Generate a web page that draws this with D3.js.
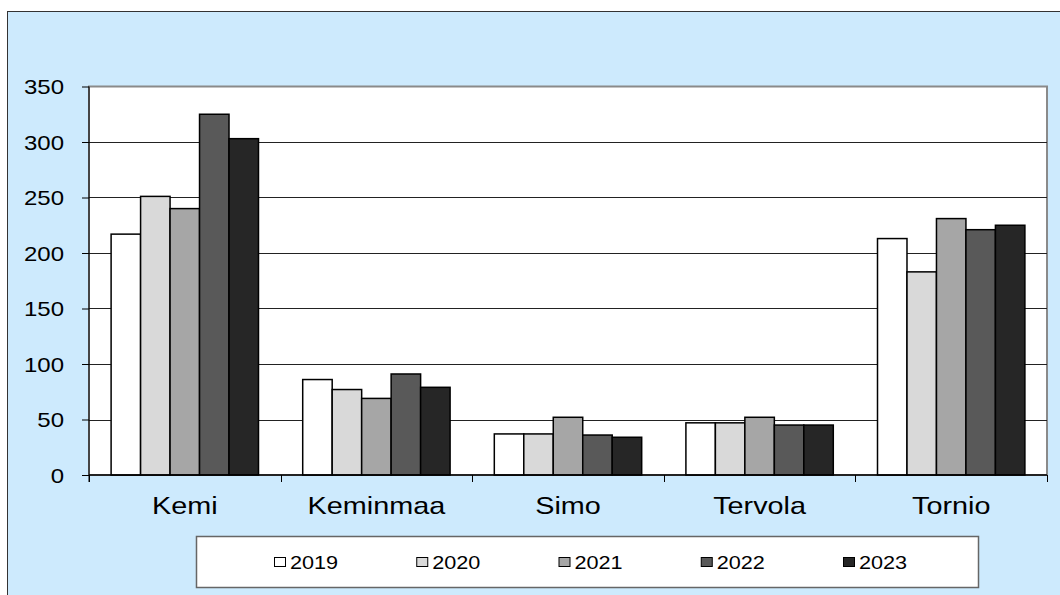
<!DOCTYPE html>
<html>
<head>
<meta charset="utf-8">
<script src="https://cdn.jsdelivr.net/npm/d3@7"></script>
<style>
  html, body { margin: 0; padding: 0; background: #fff; }
  svg { display: block; font-family: "Liberation Sans", Arial, sans-serif; }
</style>
</head>
<body>
<svg id="chart" width="1060" height="595"></svg>
<script>
// data
const categories = ['Kemi', 'Keminmaa', 'Simo', 'Tervola', 'Tornio'];
const years = ['2019', '2020', '2021', '2022', '2023'];
const values2019 = [217, 86, 37, 47, 213];
const values2020 = [251, 77, 37, 47, 183];
const values2021 = [240, 69, 52, 52, 231];
const values2022 = [325, 91, 36, 45, 221];
const values2023 = [303, 79, 34, 45, 225];
const yTicks = [0, 50, 100, 150, 200, 250, 300, 350];
const barColors = ['#ffffff', '#d9d9d9', '#a6a6a6', '#595959', '#262626'];

const seriesValues = [values2019, values2020, values2021, values2022, values2023];
const rows = categories.map((c, i) => ({
    category: c,
    values: years.map((y, j) => ({ year: y, value: seriesValues[j][i] }))
}));

const svg = d3.select('#chart');
const plot = { left: 89, right: 1047, top: 86.5, bottom: 475 };
const sx = 1.2; // text in the picture is stretched sideways

// background frame
svg.append('rect')
    .attr('x', 7.5).attr('y', 11.5).attr('width', 1070).attr('height', 600)
    .attr('fill', '#cdeafd').attr('stroke', '#333').attr('stroke-width', 1);

// plot area
svg.append('rect')
    .attr('x', plot.left).attr('y', plot.top)
    .attr('width', plot.right - plot.left).attr('height', plot.bottom - plot.top)
    .attr('fill', '#fff').attr('stroke', '#8a8a8a').attr('stroke-width', 2);

const x0 = d3.scaleBand().domain(categories).range([plot.left, plot.right]).padding(0);
const x1 = d3.scaleBand().domain(years).range([0, x0.bandwidth()]).paddingInner(0).paddingOuter(0.75);
const y = d3.scaleLinear().domain([0, 350]).range([plot.bottom, plot.top]);
const color = d3.scaleOrdinal().domain(years).range(barColors);

// gridlines
svg.append('g').selectAll('line')
    .data(yTicks.filter(t => t > 0 && t < 350))
    .join('line')
    .attr('x1', plot.left).attr('x2', plot.right)
    .attr('y1', d => Math.round(y(d)) + 0.5).attr('y2', d => Math.round(y(d)) + 0.5)
    .attr('stroke', '#222').attr('stroke-width', 1);

// bars
svg.append('g').selectAll('g')
    .data(rows)
    .join('g')
    .attr('transform', d => `translate(${x0(d.category)},0)`)
    .selectAll('rect')
    .data(d => d.values)
    .join('rect')
    .attr('x', d => x1(d.year))
    .attr('y', d => y(d.value))
    .attr('width', x1.bandwidth())
    .attr('height', d => plot.bottom - y(d.value))
    .attr('fill', d => color(d.year))
    .attr('stroke', '#000').attr('stroke-width', 1.5);

// y axis
const yAxis = svg.append('g')
    .attr('transform', `translate(${plot.left},0)`)
    .call(d3.axisLeft(y).tickValues(yTicks).tickSize(7).tickFormat(''));
yAxis.select('.domain').attr('d', `M0,${plot.top}V${plot.bottom + 7}`).attr('stroke', '#000');
yAxis.selectAll('.tick line').attr('stroke', '#000');

yTicks.forEach(t => {
    svg.append('g')
        .attr('transform', `translate(64,${y(t) + 7.5}) scale(${sx},1)`)
        .append('text')
        .attr('text-anchor', 'end')
        .attr('font-size', 20)
        .attr('fill', '#000')
        .text(t);
});

// x axis, ticks at group boundaries
const bounds = categories.map(c => x0(c)).concat([plot.right]);
svg.append('line')
    .attr('x1', plot.left).attr('x2', plot.right)
    .attr('y1', plot.bottom).attr('y2', plot.bottom)
    .attr('stroke', '#000').attr('stroke-width', 1.5);
svg.append('g').selectAll('line')
    .data(bounds)
    .join('line')
    .attr('x1', d => Math.round(d) + 0.5).attr('x2', d => Math.round(d) + 0.5)
    .attr('y1', plot.bottom).attr('y2', plot.bottom + 7)
    .attr('stroke', '#000');

categories.forEach(c => {
    svg.append('g')
        .attr('transform', `translate(${x0(c) + x0.bandwidth() / 2},514) scale(${sx},1)`)
        .append('text')
        .attr('text-anchor', 'middle')
        .attr('font-size', 24)
        .attr('fill', '#000')
        .text(c);
});

// legend
const legend = svg.append('g');
legend.append('rect')
    .attr('x', 196.5).attr('y', 536.5).attr('width', 782).attr('height', 51)
    .attr('fill', '#fff').attr('stroke', '#666').attr('stroke-width', 1.5);
const lx = d3.scalePoint().domain(years).range([274, 843]);
const items = legend.selectAll('g.item')
    .data(years)
    .join('g').attr('class', 'item')
    .attr('transform', d => `translate(${lx(d)},0)`);
items.append('rect')
    .attr('x', 0.5).attr('y', 557.5).attr('width', 11).attr('height', 9)
    .attr('fill', d => color(d)).attr('stroke', '#000').attr('stroke-width', 1);
items.append('g')
    .attr('transform', `translate(16,568.5) scale(1.14,1)`)
    .append('text')
    .attr('font-size', 19)
    .attr('fill', '#000')
    .text(d => d);
</script>
</body>
</html>
